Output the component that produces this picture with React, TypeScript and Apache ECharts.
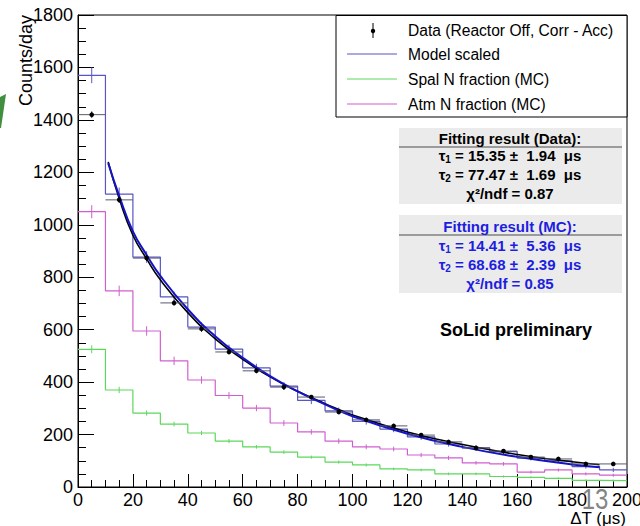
import React, { useEffect, useRef } from "react";
import * as echarts from "echarts";

// ---- data ----
const binLow = [0, 10, 20, 30, 40, 50, 60, 70, 80, 90, 100, 110, 120, 130, 140, 150, 160, 170, 180, 190];
const binWidth = 10;
const dataCounts = [1420, 1095, 873, 702, 603, 515, 443, 381, 343, 286, 256, 233, 198, 172, 149, 137, 114, 107, 88, 88];
const dataErr = [12, 12, 11, 10, 10, 9, 9, 9, 8, 8, 8, 8, 7, 7, 7, 7, 6, 6, 6, 6];
const modelScaled = [1570, 1117, 877, 725, 610, 526, 454, 385, 330, 290, 250, 221, 191, 164, 149, 135, 110, 100, 78, 65];
const modelErr = [30, 25, 22, 20, 18, 17, 16, 15, 14, 13, 12, 12, 11, 10, 10, 9, 9, 8, 8, 8];
const spalN = [525, 370, 282, 240, 206, 175, 153, 133, 114, 95, 84, 69, 65, 50, 50, 40, 37, 33, 25, 24];
const spalErr = [15, 12, 10, 9, 8, 8, 7, 7, 6, 6, 6, 5, 5, 5, 5, 4, 4, 4, 4, 4];
const atmN = [1050, 748, 595, 481, 408, 349, 301, 244, 210, 175, 153, 145, 122, 111, 92, 88, 57, 65, 50, 45];
const atmErr = [25, 20, 18, 16, 14, 13, 12, 11, 10, 10, 9, 9, 8, 8, 7, 7, 6, 6, 6, 6];
const fitT = [11, 15, 20, 25, 30, 40, 50, 60, 70, 80, 90, 100, 120, 140, 160, 180, 190];
const fitDataCurve = [1240, 1100, 960, 870, 790, 665, 565, 487, 420, 365, 318, 275, 210, 162, 124, 96, 85];
const fitMCCurve = [1235, 1110, 975, 885, 805, 678, 575, 493, 423, 365, 315, 270, 203, 153, 115, 86, 75];

const legendLabels = ["Data (Reactor Off, Corr - Acc)", "Model scaled", "Spal N fraction (MC)", "Atm N fraction (MC)"];
const fitDataLines = ["Fitting result (Data):", "15.35 ±  1.94  μs", "77.47 ±  1.69  μs", "0.87"];
const fitMCLines = ["Fitting result (MC):", "14.41 ±  5.36  μs", "68.68 ±  2.39  μs", "0.85"];

const FONT = "Liberation Sans, Arial, Helvetica, sans-serif";
const C_MODEL = "#5656c4";
const C_SPAL = "#5cd85c";
const C_ATM = "#cf5fcf";
const C_FITMC = "#1414c4";
const C_BLUE_TXT = "#1e1ee0";

function stepPoints(vals: number[]) {
  const pts = binLow.map((x, i) => [x, vals[i]]);
  const last = binLow.length - 1;
  pts.push([binLow[last] + binWidth, vals[last]]);
  return pts;
}

function errTicks(vals: number[], errs: number[]) {
  return binLow.map((x, i) => [x + binWidth / 2, vals[i], errs[i]]);
}

function errRender(color: string) {
  return (params: any, api: any) => {
    const x = api.value(0);
    const y = api.value(1);
    const e = api.value(2);
    const p1 = api.coord([x, y - e]);
    const p2 = api.coord([x, y + e]);
    return {
      type: "line",
      shape: { x1: p1[0], y1: p1[1], x2: p2[0], y2: p2[1] },
      style: { stroke: color, lineWidth: 1 },
    };
  };
}

function fitText(x: number, y: number, kind: "t1" | "t2" | "chi", value: string, color: string) {
  const rich: any = {
    a: { fontFamily: FONT, fontWeight: "bold", fontSize: 15, fill: color, lineHeight: 18 },
    s: { fontFamily: FONT, fontWeight: "bold", fontSize: 10, fill: color, lineHeight: 9, verticalAlign: "bottom" },
  };
  let text = "";
  if (kind === "t1") text = `{a|τ}{s|1}{a| = ${value}}`;
  else if (kind === "t2") text = `{a|τ}{s|2}{a| = ${value}}`;
  else text = `{a|χ²/ndf = ${value}}`;
  return {
    type: "text",
    x,
    y,
    z: 20,
    style: { text, rich, align: "center", verticalAlign: "middle" },
  };
}

export default function App() {
  const ref = useRef<HTMLDivElement>(null);
  useEffect(() => {
    if (!ref.current) return;
    const chart = echarts.init(ref.current, undefined, { renderer: "svg" });

    const dataItems = binLow.map((x, i) => [x + binWidth / 2, dataCounts[i], dataErr[i], binWidth / 2]);

    const legendY = [30, 54, 79, 104];
    const legendColors = ["#000", C_MODEL, C_SPAL, C_ATM];

    const graphics: any[] = [
      // legend box
      {
        type: "rect",
        z: 15,
        shape: { x: 336, y: 15.5, width: 291, height: 101.5 },
        style: { fill: "#fff", stroke: "#000", lineWidth: 1 },
      },
      // data marker in legend
      {
        type: "line",
        z: 16,
        shape: { x1: 373, y1: 23, x2: 373, y2: 38 },
        style: { stroke: "#000", lineWidth: 1 },
      },
      { type: "circle", z: 16, shape: { cx: 373, cy: 31, r: 2.2 }, style: { fill: "#000" } },
      ...legendLabels.map((t, i) => ({
        type: "text",
        z: 16,
        x: 408,
        y: legendY[i],
        style: { text: t, fontFamily: FONT, fontSize: 15.6, fill: "#000", verticalAlign: "middle", align: "left" },
      })),
      ...[1, 2, 3].map((i) => ({
        type: "line",
        z: 16,
        shape: { x1: 347, y1: legendY[i], x2: 397, y2: legendY[i] },
        style: { stroke: legendColors[i], lineWidth: 1.2 },
      })),
      // fit boxes
      { type: "rect", z: 18, shape: { x: 399, y: 128, width: 223, height: 76 }, style: { fill: "#ebebeb" } },
      { type: "line", z: 19, shape: { x1: 399, y1: 147, x2: 622, y2: 147 }, style: { stroke: "#808080", lineWidth: 1.5 } },
      {
        type: "text",
        z: 20,
        x: 510,
        y: 138,
        style: { text: fitDataLines[0], fontFamily: FONT, fontWeight: "bold", fontSize: 15, fill: "#000", align: "center", verticalAlign: "middle" },
      },
      fitText(510, 155, "t1", fitDataLines[1], "#000"),
      fitText(510, 174, "t2", fitDataLines[2], "#000"),
      fitText(510, 193, "chi", fitDataLines[3], "#000"),
      { type: "rect", z: 18, shape: { x: 399, y: 215, width: 223, height: 78 }, style: { fill: "#ebebeb" } },
      { type: "line", z: 19, shape: { x1: 399, y1: 235, x2: 622, y2: 235 }, style: { stroke: "#808080", lineWidth: 1.5 } },
      {
        type: "text",
        z: 20,
        x: 510,
        y: 226,
        style: { text: fitMCLines[0], fontFamily: FONT, fontWeight: "bold", fontSize: 15, fill: C_BLUE_TXT, align: "center", verticalAlign: "middle" },
      },
      fitText(510, 245, "t1", fitMCLines[1], C_BLUE_TXT),
      fitText(510, 264, "t2", fitMCLines[2], C_BLUE_TXT),
      fitText(510, 283, "chi", fitMCLines[3], C_BLUE_TXT),
      // SoLid preliminary
      {
        type: "text",
        z: 20,
        x: 440,
        y: 330,
        style: { text: "SoLid preliminary", fontFamily: FONT, fontWeight: "bold", fontSize: 18, fill: "#000", align: "left", verticalAlign: "middle" },
      },
      // axis titles
      {
        type: "text",
        z: 20,
        x: 626,
        y: 518,
        style: { text: "ΔT (μs)", fontFamily: FONT, fontSize: 17, fill: "#000", align: "right", verticalAlign: "middle" },
      },
      {
        type: "text",
        z: 20,
        x: 26,
        y: 15,
        rotation: Math.PI / 2,
        style: { text: "Counts/day", fontFamily: FONT, fontSize: 18, fill: "#000", align: "right", verticalAlign: "middle" },
      },
      // slide artefacts
      {
        type: "polygon",
        z: 20,
        shape: { points: [[0, 97], [6, 94], [1, 128], [0, 128]] },
        style: { fill: "#3f8f3f" },
      },
      {
        type: "text",
        z: 25,
        x: 595,
        y: 499,
        scaleX: 0.8,
        style: { text: "13", fontFamily: FONT, fontSize: 30, fill: "rgba(110,110,110,0.85)", align: "center", verticalAlign: "middle" },
      },
    ];

    chart.setOption({
      animation: false,
      backgroundColor: "#fff",
      grid: {
        left: 78,
        right: 13,
        top: 15,
        bottom: 39,
        show: true,
        borderColor: "#000",
        borderWidth: 1,
        backgroundColor: "transparent",
        outerBoundsMode: "none",
      } as any,
      xAxis: {
        type: "value",
        min: 0,
        max: 200,
        interval: 20,
        axisLine: { show: true, lineStyle: { color: "#000", width: 1 } },
        axisTick: { show: true, inside: true, length: 13, lineStyle: { color: "#000" } },
        minorTick: { show: true, splitNumber: 4, length: 7, lineStyle: { color: "#000" } },
        splitLine: { show: false },
        minorSplitLine: { show: false },
        axisLabel: { fontFamily: FONT, fontSize: 18, color: "#000", margin: 4, formatter: (v: number) => String(v) },
      },
      yAxis: {
        type: "value",
        min: 0,
        max: 1800,
        interval: 200,
        axisLine: { show: true, lineStyle: { color: "#000", width: 1 } },
        axisTick: { show: true, inside: true, length: 16, lineStyle: { color: "#000" } },
        minorTick: { show: true, splitNumber: 4, length: 8, lineStyle: { color: "#000" } },
        splitLine: { show: false },
        minorSplitLine: { show: false },
        axisLabel: { fontFamily: FONT, fontSize: 18, color: "#000", margin: 5, formatter: (v: number) => String(v) },
      },
      series: [
        {
          name: "Spal N fraction (MC)",
          type: "line",
          step: "end",
          symbol: "none",
          data: stepPoints(spalN),
          lineStyle: { color: C_SPAL, width: 1.2 },
          z: 2,
        },
        { type: "custom", renderItem: errRender(C_SPAL), data: errTicks(spalN, spalErr), encode: { x: 0, y: 1 }, z: 2 },
        {
          name: "Atm N fraction (MC)",
          type: "line",
          step: "end",
          symbol: "none",
          data: stepPoints(atmN),
          lineStyle: { color: C_ATM, width: 1.2 },
          z: 2,
        },
        { type: "custom", renderItem: errRender(C_ATM), data: errTicks(atmN, atmErr), encode: { x: 0, y: 1 }, z: 2 },
        {
          name: "Model scaled",
          type: "line",
          step: "end",
          symbol: "none",
          data: stepPoints(modelScaled),
          lineStyle: { color: C_MODEL, width: 1.2 },
          z: 3,
        },
        { type: "custom", renderItem: errRender(C_MODEL), data: errTicks(modelScaled, modelErr), encode: { x: 0, y: 1 }, z: 3 },
        {
          name: "Data fit",
          type: "line",
          smooth: true,
          symbol: "none",
          data: fitT.map((t, i) => [t, fitDataCurve[i]]),
          lineStyle: { color: "#000", width: 1.6 },
          z: 4,
        },
        {
          name: "MC fit",
          type: "line",
          smooth: true,
          symbol: "none",
          data: fitT.map((t, i) => [t, fitMCCurve[i]]),
          lineStyle: { color: C_FITMC, width: 2 },
          z: 5,
        },
        {
          name: "Data (Reactor Off, Corr - Acc)",
          type: "custom",
          z: 6,
          encode: { x: 0, y: 1 },
          data: dataItems,
          renderItem: (params: any, api: any) => {
            const x = api.value(0);
            const y = api.value(1);
            const e = api.value(2);
            const hw = api.value(3);
            const c = api.coord([x, y]);
            const l = api.coord([x - hw, y]);
            const r = api.coord([x + hw, y]);
            const t = api.coord([x, y + e]);
            const b = api.coord([x, y - e]);
            return {
              type: "group",
              children: [
                { type: "line", shape: { x1: l[0], y1: l[1], x2: r[0], y2: r[1] }, style: { stroke: "#5a5a6e", lineWidth: 1 } },
                { type: "line", shape: { x1: t[0], y1: t[1], x2: b[0], y2: b[1] }, style: { stroke: "#000", lineWidth: 1 } },
                { type: "circle", shape: { cx: c[0], cy: c[1], r: 2.3 }, style: { fill: "#000" } },
              ],
            };
          },
        },
      ],
      graphic: graphics,
    });

    return () => chart.dispose();
  }, []);

  return <div ref={ref} style={{ width: 640, height: 526, position: "absolute", left: 0, top: 0 }} />;
}
